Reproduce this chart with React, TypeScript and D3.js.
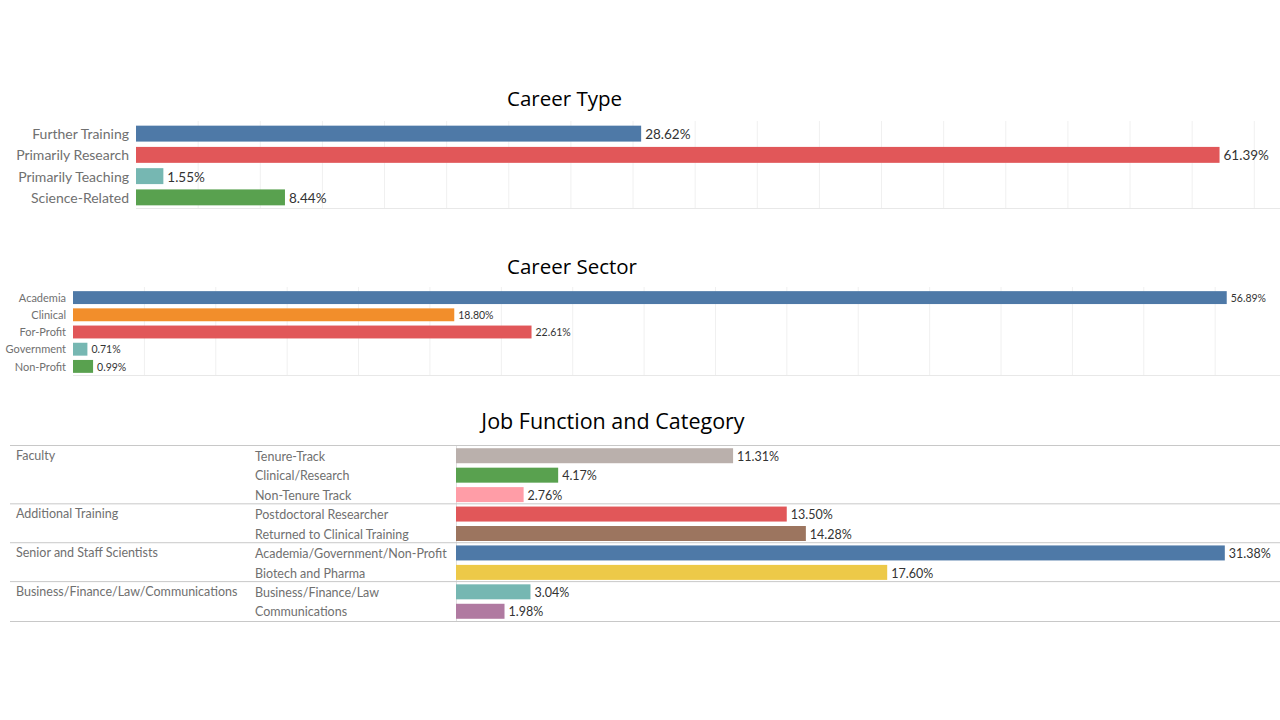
import React from "react";
import * as d3 from "d3";

const careerTypes = ["Further Training", "Primarily Research", "Primarily Teaching", "Science-Related"];
const careerTypeValues = [28.62, 61.39, 1.55, 8.44];
const careerTypeColors = ["#4e79a7", "#e15759", "#76b7b2", "#59a14f"];

const sectors = ["Academia", "Clinical", "For-Profit", "Government", "Non-Profit"];
const sectorValues = [56.89, 18.8, 22.61, 0.71, 0.99];
const sectorColors = ["#4e79a7", "#f28e2b", "#e15759", "#76b7b2", "#59a14f"];

const jobGroups = ["Faculty", "Additional Training", "Senior and Staff Scientists", "Business/Finance/Law/Communications"];
const jobGroupOf = [0, 0, 0, 1, 1, 2, 2, 3, 3];
const jobCategories = [
  "Tenure-Track",
  "Clinical/Research",
  "Non-Tenure Track",
  "Postdoctoral Researcher",
  "Returned to Clinical Training",
  "Academia/Government/Non-Profit",
  "Biotech and Pharma",
  "Business/Finance/Law",
  "Communications",
];
const jobValues = [11.31, 4.17, 2.76, 13.5, 14.28, 31.38, 17.6, 3.04, 1.98];
const jobColors = ["#bab0ac", "#59a14f", "#ff9da7", "#e15759", "#9c755f", "#4e79a7", "#edc948", "#76b7b2", "#b07aa1"];

// gridline spacing (in % units) shared by the first two charts
const gridStep = 3.52;

const FONT = "Lato, 'Open Sans', sans-serif";
const TITLE_FONT = "'Open Sans', 'Noto Sans', sans-serif";

function fmt(v: number) {
  return v.toFixed(2) + "%";
}

function HBar(props: {
  cats: string[];
  vals: number[];
  colors: string[];
  x0: number;
  pxPerPct: number;
  top: number;
  bottom: number;
  labelSize: number;
  valueSize: number;
  title: string;
  titleY: number;
  dy: number;
}) {
  const { cats, vals, colors, x0, pxPerPct, top, bottom, labelSize, valueSize, title, titleY, dy } = props;
  const x = d3.scaleLinear().domain([0, 100]).range([x0, x0 + 100 * pxPerPct]);
  const y = d3.scaleBand<string>().domain(cats).range([top, bottom]).paddingInner(0.25).paddingOuter(0.125);
  const maxPct = (1280 - x0) / pxPerPct;
  const grid = d3.range(gridStep, maxPct, gridStep);
  return (
    <g>
      <text x={507} y={titleY} textAnchor="start" fontFamily={TITLE_FONT} fontSize={20.5} fill="#000" dominantBaseline="middle">
        {title}
      </text>
      {grid.map((g, i) => (
        <line key={i} x1={x(g)} x2={x(g)} y1={top - 2} y2={bottom} stroke="#f0f0f0" strokeWidth={1} />
      ))}
      <line x1={x0} x2={1280} y1={bottom + 0.5} y2={bottom + 0.5} stroke="#e8e8e8" />
      {cats.map((c, i) => (
        <g key={c}>
          <text
            x={x0 - 7}
            y={(y(c) as number) + y.bandwidth() / 2 + dy}
            textAnchor="end"
            dominantBaseline="middle"
            fontFamily={FONT}
            fontSize={labelSize}
            fill="#707070"
          >
            {c}
          </text>
          <rect x={x(0)} y={y(c)} width={x(vals[i]) - x(0)} height={y.bandwidth()} fill={colors[i]} />
          <text
            x={x(vals[i]) + 4}
            y={(y(c) as number) + y.bandwidth() / 2 + dy}
            dominantBaseline="middle"
            fontFamily={FONT}
            fontSize={valueSize}
            fill="#333"
          >
            {fmt(vals[i])}
          </text>
        </g>
      ))}
    </g>
  );
}

function JobTable() {
  const top = 446;
  const bottom = 621;
  const x0 = 456;
  const pxPerPct = 24.5;
  const dy = 2;
  const x = d3.scaleLinear().domain([0, 100]).range([x0, x0 + 100 * pxPerPct]);
  const rows = d3.scaleBand<string>().domain(jobCategories).range([top, bottom]);
  const step = rows.bandwidth();
  const barH = 15;
  const groupStarts = jobGroups.map((_, gi) => jobGroupOf.indexOf(gi));
  return (
    <g>
      <text x={613} y={423} textAnchor="middle" fontFamily={TITLE_FONT} fontSize={21.5} fill="#000" dominantBaseline="middle">
        Job Function and Category
      </text>
      <line x1={x0 + 0.5} x2={x0 + 0.5} y1={top} y2={bottom} stroke="#e0e0e0" />
      {groupStarts.map((r, gi) => (
        <line key={gi} x1={10} x2={1280} y1={(rows(jobCategories[r]) as number) - 0.5} y2={(rows(jobCategories[r]) as number) - 0.5} stroke="#c8c8c8" />
      ))}
      <line x1={10} x2={1280} y1={bottom + 0.5} y2={bottom + 0.5} stroke="#c8c8c8" />
      {groupStarts.map((r, gi) => (
        <text
          key={gi}
          x={16}
          y={(rows(jobCategories[r]) as number) + step / 2 - 1 + dy}
          dominantBaseline="middle"
          fontFamily={FONT}
          fontSize={12.5}
          fill="#707070"
        >
          {jobGroups[gi]}
        </text>
      ))}
      {jobCategories.map((c, i) => {
        const yc = (rows(c) as number) + step / 2;
        return (
          <g key={c}>
            <text x={255} y={yc + dy} dominantBaseline="middle" fontFamily={FONT} fontSize={12.5} fill="#707070">
              {c}
            </text>
            <rect x={x(0)} y={yc - barH / 2} width={x(jobValues[i]) - x(0)} height={barH} fill={jobColors[i]} />
            <text x={x(jobValues[i]) + 4} y={yc + dy} dominantBaseline="middle" fontFamily={FONT} fontSize={12.5} fill="#333">
              {fmt(jobValues[i])}
            </text>
          </g>
        );
      })}
    </g>
  );
}

export default function App() {
  return (
    <svg width={1280} height={720} style={{ position: "absolute", left: 0, top: 0, background: "#fff" }}>
      <rect width={1280} height={720} fill="#fff" />
      <HBar
        cats={careerTypes}
        vals={careerTypeValues}
        colors={careerTypeColors}
        x0={136}
        pxPerPct={17.65}
        top={123}
        bottom={208}
        labelSize={14}
        valueSize={13.5}
        title="Career Type"
        titleY={101}
        dy={2}
      />
      <HBar
        cats={sectors}
        vals={sectorValues}
        colors={sectorColors}
        x0={73}
        pxPerPct={20.28}
        top={289}
        bottom={375}
        labelSize={11}
        valueSize={10.5}
        title="Career Sector"
        titleY={269}
        dy={1.5}
      />
      <JobTable />
    </svg>
  );
}
